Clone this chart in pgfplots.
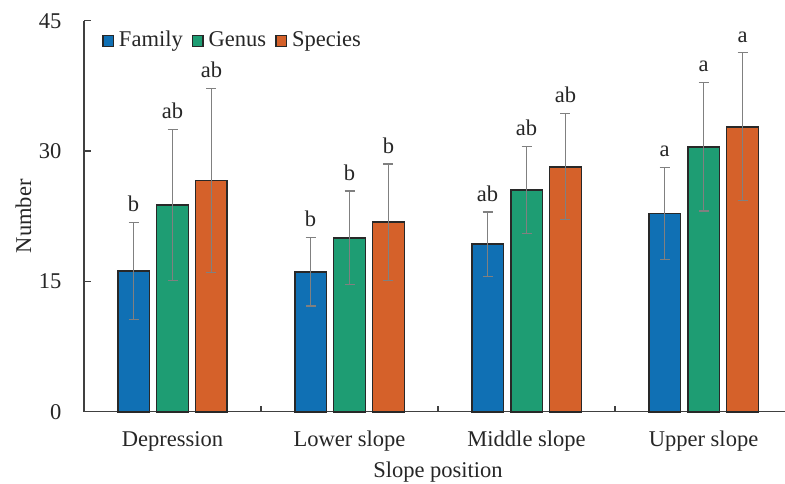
\documentclass[border=0pt]{standalone}
\usepackage{fontspec}
\setmainfont{Liberation Serif}
\usepackage{pgfplots}
\usepackage{pgfplotstable}
\pgfplotsset{compat=1.18}

\definecolor{cfam}{RGB}{16,112,180}
\definecolor{cgen}{RGB}{30,157,115}
\definecolor{cspe}{RGB}{213,97,42}
\definecolor{axcol}{RGB}{64,64,64}
\definecolor{edgecol}{RGB}{40,40,40}
\definecolor{errcol}{RGB}{128,128,128}

% x = bar centre, y = mean, e = error, t = top of error bar, l = letter
\pgfplotstableread{
x y e t l
-0.22 16.2 5.6 21.8 b
0.78 16.1 3.95 20.05 b
1.78 19.3 3.7 23.0 ab
2.78 22.8 5.3 28.1 a
}\famtab
\pgfplotstableread{
x y e t l
0 23.8 8.7 32.5 ab
1 20.0 5.4 25.4 b
2 25.5 5.0 30.5 ab
3 30.5 7.4 37.9 a
}\gentab
\pgfplotstableread{
x y e t l
0.22 26.6 10.6 37.2 ab
1.22 21.8 6.7 28.5 b
2.22 28.2 6.1 34.3 ab
3.22 32.8 8.5 41.3 a
}\spetab

\pgfplotsset{
  mybar/.style={ybar, bar width=0.18, bar shift=0pt, draw=edgecol, line width=0.9bp,
    legend image code/.code={\draw[##1, line width=0.7bp] (0bp,-2.75bp) rectangle (5.25bp,2.5bp);}},
  letters/.style={draw=none, mark=none, forget plot, nodes near coords,
    point meta=explicit symbolic,
    every node near coord/.append style={text=black!85, anchor=south, yshift=1.3bp}},
}

\begin{document}
\fontsize{11.3}{13.6}\selectfont
\begin{tikzpicture}
\begin{axis}[
  scale only axis, width=350.5bp, height=195.5bp,
  xmin=-0.5, xmax=3.46, ymin=0, ymax=45,
  axis x line*=bottom, axis y line*=left,
  axis line style={draw=axcol, line width=0.75bp},
  tick align=inside, major tick length=3.5bp,
  ytick={0,15,30,45},
  ytick style={draw=axcol, line width=0.75bp},
  yticklabel style={xshift=-7.3bp, text=black!85},
  /pgf/number format/assume math mode=true,
  xtick={0,1,2,3},
  xticklabels={Depression, Lower slope, Middle slope, Upper slope},
  xtick style={draw=none},
  extra x ticks={0.5,1.5,2.5}, extra x tick labels={},
  extra x tick style={xtick style={draw=axcol, line width=0.75bp}, major tick length=3bp},
  xticklabel style={anchor=base, yshift=-17.3bp, text=black!85},
  xlabel={Slope position},
  xlabel style={at={(axis description cs:0.505,0)}, anchor=base, yshift=-32.75bp, text=black!85},
  ylabel={Number},
  ylabel style={at={(axis description cs:-0.0863,0.5)}, anchor=center, text=black!85},
  clip=false,
  error bars/error bar style={color=errcol, line width=0.65bp},
  error bars/error mark options={rotate=90, mark size=2.5bp, color=errcol, line width=0.65bp},
  legend style={draw=none, fill=none, inner sep=0pt, text=black!85,
    at={(axis description cs:0.02525,0.9488)}, anchor=west,
    nodes={inner sep=0pt},
    /tikz/every odd column/.append style={column sep=2.5bp},
    /tikz/every even column/.append style={column sep=4.5bp}},
  legend columns=-1,
]
\addplot[mybar, fill=cfam, error bars/.cd, y dir=both, y explicit]
  table[x=x, y=y, y error=e]{\famtab};
\addplot[mybar, fill=cgen, error bars/.cd, y dir=both, y explicit]
  table[x=x, y=y, y error=e]{\gentab};
\addplot[mybar, fill=cspe, error bars/.cd, y dir=both, y explicit]
  table[x=x, y=y, y error=e]{\spetab};
\legend{Family, Genus, Species}
\addplot[letters] table[x=x, y=t, meta=l]{\famtab};
\addplot[letters] table[x=x, y=t, meta=l]{\gentab};
\addplot[letters] table[x=x, y=t, meta=l]{\spetab};
\end{axis}
\pgfresetboundingbox
\useasboundingbox (-42bp,-35.75bp) rectangle (350.5bp,205.85bp);
\end{tikzpicture}
\end{document}
